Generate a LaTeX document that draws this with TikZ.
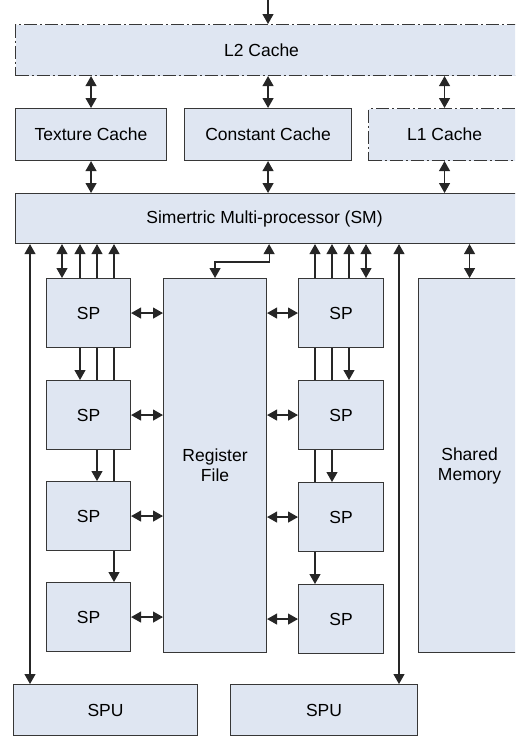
\documentclass[tikz,border=0pt]{standalone}
\usepackage{fontspec}
\setmainfont{Liberation Sans}
\usetikzlibrary{positioning,calc,arrows.meta}
\definecolor{boxfill}{RGB}{223,230,242}
\definecolor{edge}{RGB}{55,55,55}

\begin{document}
\begin{tikzpicture}[x=1pt,y=-1pt,font=\fontsize{17.5}{20}\selectfont,
  >={Triangle[length=10pt,width=11pt]},
  box/.style={draw=edge,fill=boxfill,line width=1.1pt,anchor=north west,inner sep=0pt},
  dashbox/.style={box,dash pattern=on 13pt off 3pt on 2pt off 3pt},
  ln/.style={draw=black!85,line width=1.2pt},
  arr/.style={ln,->},
  darr/.style={ln,<->}]
\useasboundingbox (0,0) rectangle (515,736);
\clip (0,0) rectangle (515,736);

% caches and SM
\node[dashbox,minimum width=510,minimum height=51,label={[xshift=-9pt]center:L2 Cache}] (l2) at (15,24) {};
\node[box,minimum width=151,minimum height=52] (tex) at (15,108) {Texture Cache};
\node[box,minimum width=167,minimum height=52] (con) at (184,108) {Constant Cache};
\node[dashbox,minimum width=152,minimum height=52] (l1) at (368,108) {L1 Cache};
\node[box,minimum width=510,minimum height=50,label={[xshift=-6pt]center:Simertric Multi-processor (SM)}] (sm) at (15,193) {};

% SP columns, register file, shared memory
\foreach \i/\y in {1/278,2/380,3/481,4/582}
  \node[box,minimum width=84,minimum height=69] (spL\i) at (46,\y) {SP};
\foreach \i/\y in {1/278,2/380,3/482,4/584}
  \node[box,minimum width=85,minimum height=69] (spR\i) at (298,\y) {SP};
\node[box,minimum width=103,minimum height=374,align=center] (reg) at (163,278) {Register\\File};
\node[box,minimum width=102,minimum height=374,align=center] (shm) at (418,278) {Shared\\Memory};
\node[box,minimum width=184,minimum height=51] (spu1) at (13,684) {SPU};
\node[box,minimum width=187,minimum height=51] (spu2) at (230,684) {SPU};

% arrows
\coordinate (in) at (268,0);
\draw[arr] (in) -- (in |- l2.north);
\foreach \n in {tex,con,l1} {
  \draw[darr] (\n.north |- l2.south) -- (\n.north);
  \draw[darr] (\n.south) -- (\n.south |- sm.north);
}
\foreach \x/\s in {62/darr,80/arr,97/arr,114/arr}
  \draw[\s] (\x,0 |- spL1.north) -- (\x,0 |- sm.south);
\foreach \x/\s in {315/arr,332/arr,349/arr,366/darr}
  \draw[\s] (\x,0 |- spR1.north) -- (\x,0 |- sm.south);
\foreach \i/\j/\x in {1/2/80,2/3/97,3/4/114}
  \draw[arr] (\x,0 |- spL\i.south) -- (\x,0 |- spL\j.north);
\foreach \i/\j/\x in {1/2/97,1/2/114,2/3/114}
  \draw[ln] (\x,0 |- spL\i.south) -- (\x,0 |- spL\j.north);
\foreach \i/\j/\x in {1/2/349,2/3/332,3/4/315}
  \draw[arr] (\x,0 |- spR\i.south) -- (\x,0 |- spR\j.north);
\foreach \i/\j/\x in {1/2/315,1/2/332,2/3/315}
  \draw[ln] (\x,0 |- spR\i.south) -- (\x,0 |- spR\j.north);
\foreach \i in {1,...,4} {
  \draw[darr] (spL\i.east) -- (spL\i.east -| reg.west);
  \draw[darr] (spR\i.west -| reg.east) -- (spR\i.west);
}
\coordinate (rf) at ($(reg.north east)+(2,-16)$);
\draw[darr] (reg.north) |- (rf) -- (rf |- sm.south);
\draw[darr] (shm.north) -- (shm.north |- sm.south);
\draw[darr] (30,0 |- sm.south) -- (30,0 |- spu1.north);
\draw[darr] (399,0 |- sm.south) -- (399,0 |- spu2.north);
\end{tikzpicture}
\end{document}
